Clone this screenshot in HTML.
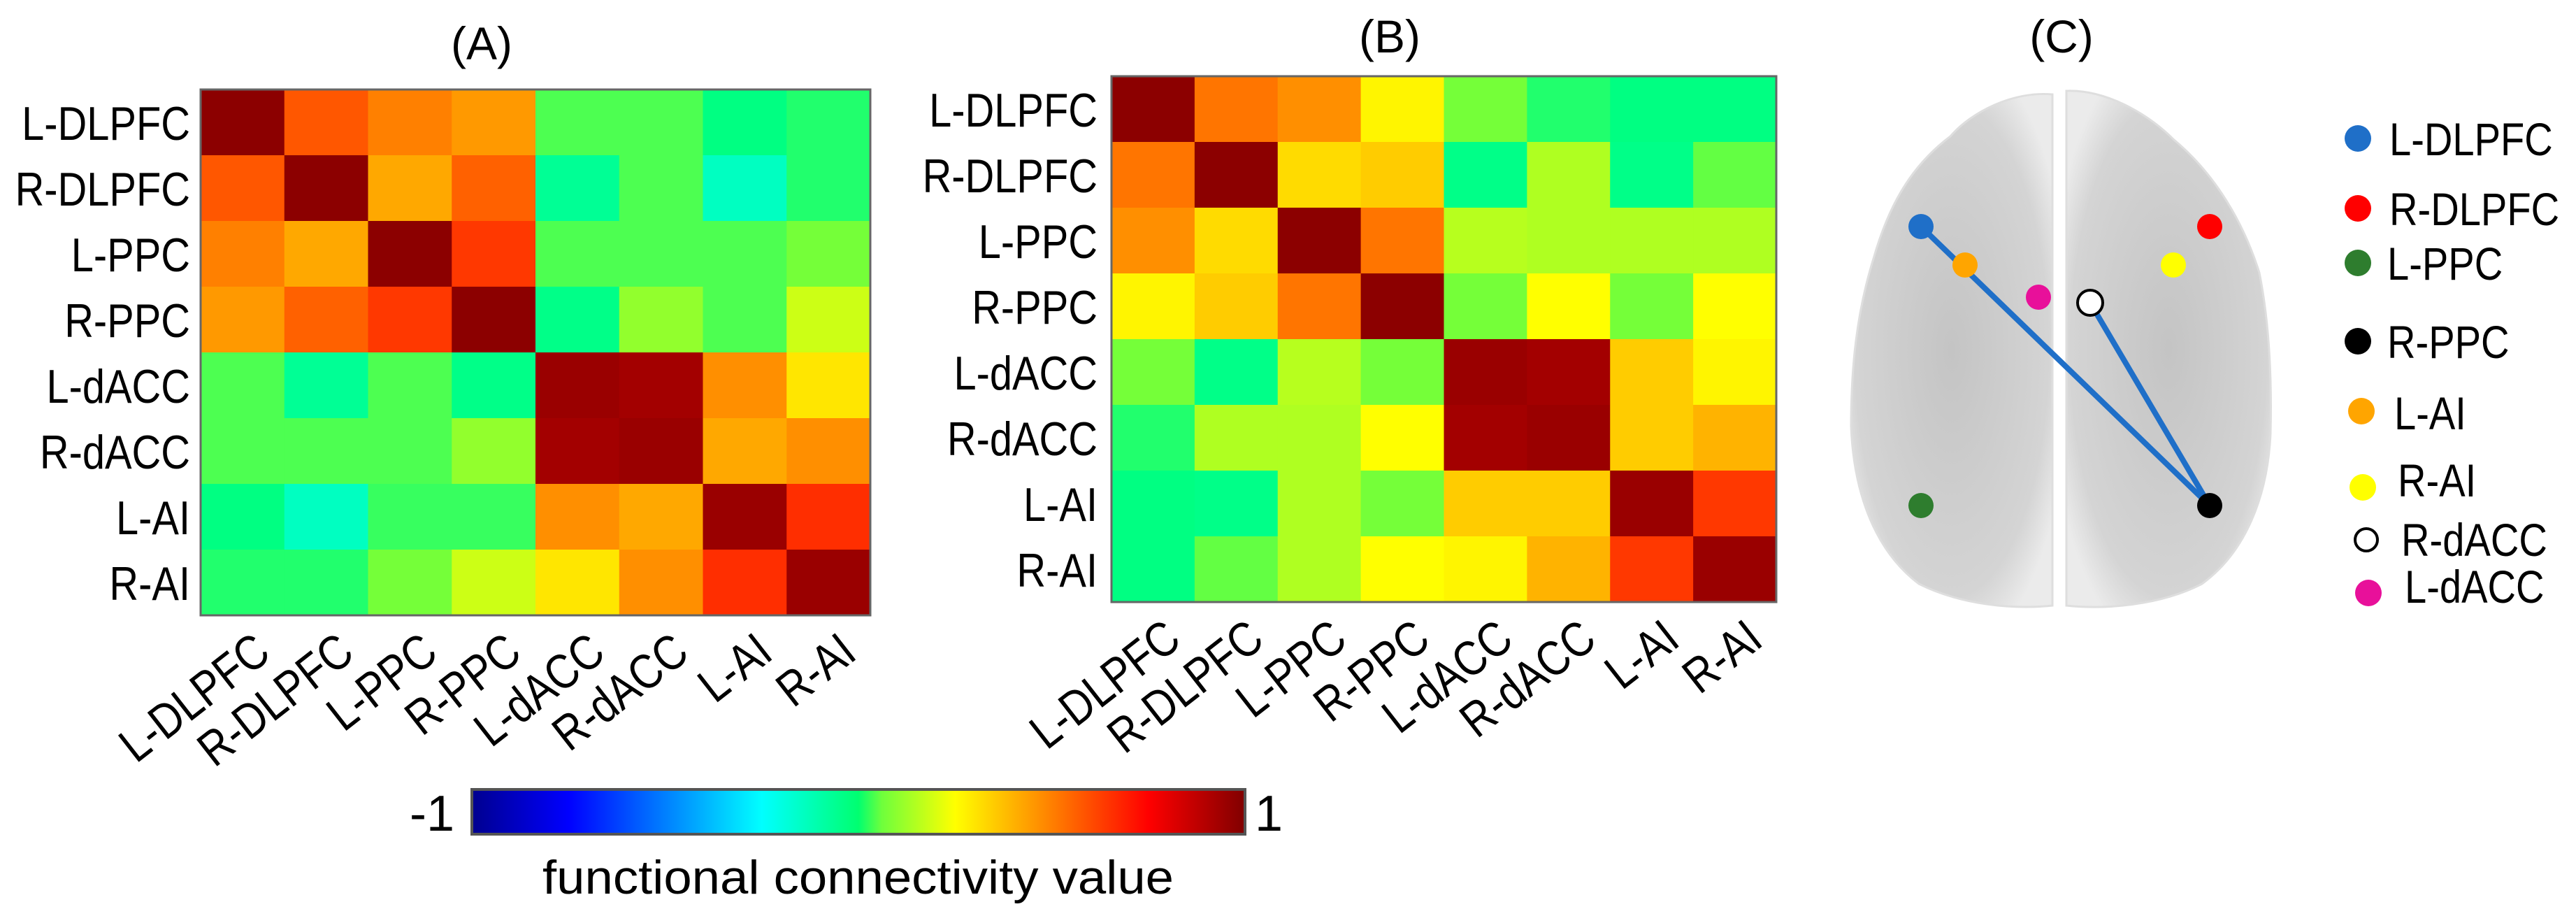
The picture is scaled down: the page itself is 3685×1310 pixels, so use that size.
<!DOCTYPE html>
<html><head><meta charset="utf-8"><style>
html,body{margin:0;padding:0;background:#fff;}
svg{display:block;font-family:"Liberation Sans",sans-serif;}
</style></head><body>
<svg id="fig" width="3685" height="1310" viewBox="0 0 3685 1310" xmlns="http://www.w3.org/2000/svg">
<defs>
<linearGradient id="jet" x1="0" x2="1" y1="0" y2="0">
<stop offset="0" stop-color="#00008f"/><stop offset="0.125" stop-color="#0000ff"/><stop offset="0.375" stop-color="#00ffff"/><stop offset="0.5" stop-color="#00ff70"/><stop offset="0.53" stop-color="#6eff3c"/><stop offset="0.625" stop-color="#ffff00"/><stop offset="0.875" stop-color="#ff0000"/><stop offset="1" stop-color="#800000"/>
</linearGradient>
<radialGradient id="brainG" cx="0.5" cy="0.5" r="0.6">
<stop offset="0" stop-color="#c4c4c4"/><stop offset="0.8" stop-color="#d4d4d4"/><stop offset="1" stop-color="#ebebeb"/>
</radialGradient>
</defs>
<g id="panelA"></g>
<g id="panelB"></g>
<text x="689" y="85" font-size="66" text-anchor="middle">(A)</text>
<text x="1988" y="75" font-size="66" text-anchor="middle">(B)</text>
<text x="2949" y="75" font-size="66" text-anchor="middle">(C)</text>
<g>
<rect x="675" y="1129" width="1106" height="64" fill="url(#jet)" stroke="#555" stroke-width="4"/>
<text x="650" y="1188" font-size="72" text-anchor="end">-1</text>
<text x="1795" y="1188" font-size="72">1</text>
<text x="776" y="1278" font-size="68" textLength="903" lengthAdjust="spacingAndGlyphs">functional connectivity value</text>
</g>
<g id="panelC">
<path d="M2936,135 C2880,130 2820,160 2790,195 C2730,240 2700,300 2680,370 C2655,450 2648,530 2648,610 C2652,710 2685,790 2745,835 C2805,865 2880,872 2936,866 Z" fill="url(#brainG)" stroke="#dedede" stroke-width="3"/>
<path d="M2956,130 C3010,128 3070,160 3110,200 C3170,250 3210,320 3232,390 C3246,460 3250,540 3248,620 C3244,710 3212,790 3150,835 C3090,866 3010,872 2956,866 Z" fill="url(#brainG)" stroke="#dedede" stroke-width="3"/>
<line x1="2748" y1="324" x2="3161" y2="723" stroke="#1f6fc8" stroke-width="8"/>
<line x1="2990" y1="433" x2="3161" y2="723" stroke="#1f6fc8" stroke-width="8"/>
<circle cx="2748" cy="324" r="18" fill="#1f6fc8"/>
<circle cx="3161" cy="324" r="18" fill="#ff0000"/>
<circle cx="2811" cy="379" r="18" fill="#ffa500"/>
<circle cx="3109" cy="379" r="18" fill="#ffff00"/>
<circle cx="2916" cy="425" r="18" fill="#e8109a"/>
<circle cx="2990" cy="433" r="18" fill="#fff" stroke="#000" stroke-width="4"/>
<circle cx="2748" cy="723" r="18" fill="#2e7d2e"/>
<circle cx="3161" cy="723" r="18" fill="#000"/>
</g>
<g font-size="66">
<g><circle cx="3373" cy="198" r="19" fill="#1f6fc8"/><text transform="translate(3418,222) scale(0.85,1)">L-DLPFC</text></g>
<g><circle cx="3373" cy="298" r="19" fill="#ff0000"/><text transform="translate(3418,322) scale(0.85,1)">R-DLPFC</text></g>
<g><circle cx="3373" cy="376" r="19" fill="#2e7d2e"/><text transform="translate(3415,400) scale(0.85,1)">L-PPC</text></g>
<g><circle cx="3373" cy="488" r="19" fill="#000"/><text transform="translate(3415,512) scale(0.85,1)">R-PPC</text></g>
<g><circle cx="3378" cy="588" r="19" fill="#ffa500"/><text transform="translate(3425,614) scale(0.85,1)">L-AI</text></g>
<g><circle cx="3380" cy="697" r="19" fill="#ffff00"/><text transform="translate(3430,710) scale(0.85,1)">R-AI</text></g>
<g><circle cx="3385" cy="772" r="16" fill="#fff" stroke="#000" stroke-width="4"/><text transform="translate(3435,795) scale(0.85,1)">R-dACC</text></g>
<g><circle cx="3388" cy="848" r="19" fill="#e8109a"/><text transform="translate(3440,862) scale(0.85,1)">L-dACC</text></g>
</g>
</svg>
<script>
const regions = ["L-DLPFC","R-DLPFC","L-PPC","R-PPC","L-dACC","R-dACC","L-AI","R-AI"];
const valuesA = [
[1,0.58,0.5,0.45,0.02,0.02,-0.05,-0.02],
[0.58,1,0.42,0.56,-0.08,0.02,-0.15,-0.02],
[0.5,0.42,1,0.64,0.02,0.02,0.02,0.06],
[0.45,0.56,0.64,1,-0.06,0.1,0.02,0.18],
[0.02,-0.08,0.02,-0.06,0.97,0.95,0.47,0.3],
[0.02,0.02,0.02,0.1,0.95,0.97,0.42,0.47],
[-0.05,-0.15,0.0,0.0,0.47,0.42,0.97,0.66],
[-0.02,-0.02,0.06,0.18,0.3,0.47,0.66,0.97]];
const valuesB = [
[1,0.52,0.47,0.27,0.06,-0.02,-0.05,-0.05],
[0.52,1,0.32,0.35,-0.06,0.14,-0.06,0.04],
[0.47,0.32,1,0.52,0.15,0.14,0.14,0.14],
[0.27,0.35,0.52,1,0.06,0.25,0.06,0.25],
[0.06,-0.06,0.15,0.06,0.97,0.95,0.35,0.27],
[-0.02,0.14,0.14,0.25,0.95,0.97,0.35,0.4],
[-0.05,-0.06,0.14,0.06,0.35,0.35,0.97,0.64],
[-0.05,0.04,0.14,0.25,0.27,0.4,0.64,0.97]];
const NS="http://www.w3.org/2000/svg";
const cmapStops=[[-1,[0,0,143]],[-0.75,[0,0,255]],[-0.25,[0,255,255]],[-0.05,[0,255,130]],[0.05,[110,255,60]],[0.25,[255,255,0]],[0.75,[255,0,0]],[1,[140,0,0]]];
function jet(v){
for(let i=0;i<cmapStops.length-1;i++){const [a,ca]=cmapStops[i],[b,cb]=cmapStops[i+1];
if(v<=b||i===cmapStops.length-2){const t=Math.max(0,Math.min(1,(v-a)/(b-a)));
return `rgb(${ca.map((c,k)=>Math.round(c+(cb[k]-c)*t)).join(",")})`;}}}
function draw(gid,vals,x0,y0,w,h,labRight,pfx){
const g=document.getElementById(gid);const n=regions.length;const cw=w/n,ch=h/n;
const xs=i=>x0+i*cw, ys=j=>y0+j*ch;
for(let r=0;r<n;r++)for(let c=0;c<n;c++){
const e=document.createElementNS(NS,"rect");
e.setAttribute("x",xs(c));e.setAttribute("y",ys(r));e.setAttribute("width",cw+0.6);e.setAttribute("height",ch+0.6);
e.setAttribute("fill",jet(vals[r][c]));


g.appendChild(e);}
const fr=document.createElementNS(NS,"rect");
fr.setAttribute("x",x0);fr.setAttribute("y",y0);fr.setAttribute("width",w);fr.setAttribute("height",h);
fr.setAttribute("fill","none");fr.setAttribute("stroke","#666");fr.setAttribute("stroke-width","3");


g.appendChild(fr);
regions.forEach((nm,i)=>{
const t=document.createElementNS(NS,"text");
t.setAttribute("font-size","68");t.setAttribute("text-anchor","end");
t.setAttribute("transform",`translate(${labRight},${ys(i)+ch/2+25}) scale(0.85,1)`);
t.textContent=nm;


g.appendChild(t);
const cx=xs(i)+cw/2+12, cy=y0+h+20;
const u=document.createElementNS(NS,"text");
u.setAttribute("font-size","70");u.setAttribute("text-anchor","end");
u.setAttribute("dominant-baseline","hanging");
u.setAttribute("transform",`translate(${cx},${cy}) rotate(-38) scale(0.85,1)`);
u.textContent=nm;


g.appendChild(u);
});}
draw("panelA",valuesA,287,128,958,752,272,"heatmap-a");
draw("panelB",valuesB,1590,109,951,752,1570,"heatmap-b");
</script>
</body></html>
